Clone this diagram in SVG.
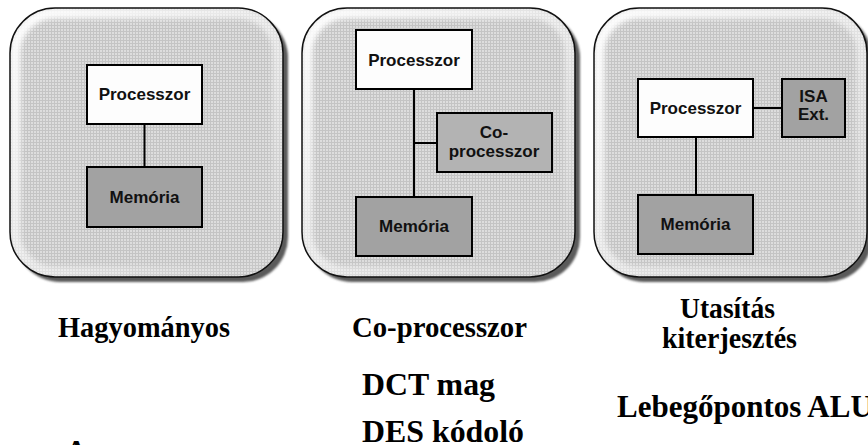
<svg xmlns="http://www.w3.org/2000/svg" width="868" height="445" viewBox="0 0 868 445">
<style>
.box{stroke:#000;stroke-width:2}
.proc{fill:#fdfdfd}
.mem{fill:#a2a2a2}
.cop{fill:#b3b3b3}
.bt{font-family:"Liberation Sans",Arial,sans-serif;font-weight:bold;font-size:17px;fill:#111;text-anchor:middle}
.lbl{font-family:"Liberation Serif","Times New Roman",serif;font-weight:bold;font-size:30px;fill:#000}
.big{font-family:"Liberation Serif","Times New Roman",serif;font-weight:bold;font-size:31px;fill:#000}
.wire{stroke:#000;stroke-width:2;fill:none}
</style>
<defs>
<pattern id="grid" width="3" height="3" patternUnits="userSpaceOnUse">
<rect width="3" height="3" fill="#c4c4c4"/>
<rect width="2" height="2" fill="#dddddd"/>
</pattern>
<linearGradient id="bevel" x1="0" y1="0" x2="1" y2="1">
<stop offset="0" stop-color="#fff" stop-opacity="0.95"/>
<stop offset="0.55" stop-color="#fff" stop-opacity="0.5"/>
<stop offset="1" stop-color="#fff" stop-opacity="0"/>
</linearGradient>
<filter id="soft" x="-10%" y="-10%" width="120%" height="120%"><feGaussianBlur stdDeviation="2.5"/></filter>
<filter id="sblur" x="-10%" y="-10%" width="120%" height="120%"><feGaussianBlur stdDeviation="1.2"/></filter>
<clipPath id="pclip"><rect x="0" y="0" width="273" height="269" rx="45"/></clipPath>
<g id="panel">
<rect x="5" y="5" width="273" height="269" rx="45" fill="#5a5a5a" filter="url(#sblur)"/>
<rect x="0" y="0" width="273" height="269" rx="45" fill="url(#grid)"/>
<g clip-path="url(#pclip)">
<rect x="5" y="5" width="263" height="259" rx="40" fill="none" stroke="url(#bevel)" stroke-width="11" filter="url(#soft)"/>
</g>
<rect x="0" y="0" width="273" height="269" rx="45" fill="none" stroke="#111" stroke-width="1.5"/>
</g>
</defs>

<g id="panel-hagyomanyos">
<use href="#panel" x="10" y="8"/>
</g>
<g id="panel-coprocessor">
<use href="#panel" x="302" y="8"/>
</g>
<g id="panel-utasitas">
<use href="#panel" x="594" y="8"/>
</g>

<g id="connectors">
<line class="wire" x1="144.5" y1="124" x2="144.5" y2="167"/>
<line class="wire" x1="414" y1="89" x2="414" y2="197"/>
<line class="wire" x1="414" y1="143" x2="437" y2="143"/>
<line class="wire" x1="753" y1="108" x2="782" y2="108"/>
<line class="wire" x1="696" y1="137" x2="696" y2="195"/>
</g>

<g id="p1-processzor">
<rect class="box proc" x="87" y="65" width="115" height="59"/>
<text class="bt" x="144.5" y="100">Processzor</text>
</g>
<g id="p1-memoria">
<rect class="box mem" x="87" y="167" width="115" height="60"/>
<text class="bt" x="144.5" y="203">Memória</text>
</g>

<g id="p2-processzor">
<rect class="box proc" x="356" y="30" width="116" height="59"/>
<text class="bt" x="414" y="66">Processzor</text>
</g>
<g id="p2-coprocessor">
<rect class="box cop" x="437" y="113" width="115" height="59"/>
<text class="bt" x="494" y="138">Co-</text>
<text class="bt" x="494" y="157">processzor</text>
</g>
<g id="p2-memoria">
<rect class="box mem" x="356" y="197" width="116" height="59"/>
<text class="bt" x="414" y="232">Memória</text>
</g>

<g id="p3-processzor">
<rect class="box proc" x="638" y="79" width="115" height="58"/>
<text class="bt" x="695.5" y="114">Processzor</text>
</g>
<g id="p3-isa">
<rect class="box mem" x="782" y="79" width="63" height="58"/>
<text class="bt" x="813.5" y="102">ISA</text>
<text class="bt" x="813.5" y="120">Ext.</text>
</g>
<g id="p3-memoria">
<rect class="box mem" x="638" y="195" width="115" height="59"/>
<text class="bt" x="695.5" y="230">Memória</text>
</g>

<g id="labels">
<text class="lbl" x="58" y="337" textLength="172" lengthAdjust="spacingAndGlyphs">Hagyományos</text>
<text class="lbl" x="352" y="337" textLength="175" lengthAdjust="spacingAndGlyphs">Co-processzor</text>
<text class="lbl" x="680" y="318" textLength="95" lengthAdjust="spacingAndGlyphs">Utasítás</text>
<text class="lbl" x="662" y="348" textLength="135" lengthAdjust="spacingAndGlyphs">kiterjesztés</text>
<text class="big" x="362" y="395" textLength="133" lengthAdjust="spacingAndGlyphs">DCT mag</text>
<text class="big" x="362" y="442" textLength="162" lengthAdjust="spacingAndGlyphs">DES kódoló</text>
<text class="big" x="617" y="417">Lebegőpontos ALU</text>
<text class="big" x="65" y="462">A</text>
</g>
</svg>
